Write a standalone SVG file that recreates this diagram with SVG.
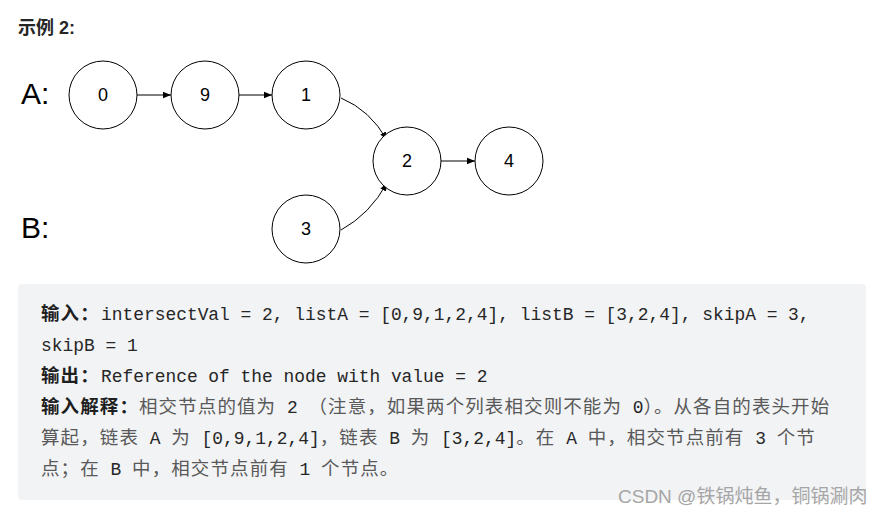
<svg xmlns="http://www.w3.org/2000/svg" width="884" height="516" viewBox="0 0 884 516">
<style>
.node circle{fill:#fff;stroke:#000;stroke-width:1}
.node text{font-family:"Liberation Sans",Arial,sans-serif;font-size:18px;fill:#000;text-anchor:middle}
.edge{fill:none;stroke:#000;stroke-width:1;marker-end:url(#arr)}
.big{font-family:"Liberation Sans",Arial,sans-serif;font-size:30px;fill:#000}
.title{font-family:"Liberation Sans","Noto Sans CJK SC",sans-serif;font-size:18px;font-weight:bold;fill:#262626}
.lb{font-family:"Noto Sans CJK SC",sans-serif;font-size:18.5px;letter-spacing:1.1px;font-weight:bold;fill:#1f1f1f}
.mo{font-family:"Liberation Mono","DejaVu Sans Mono",monospace;font-size:17.9px;fill:#262626}
.cn{font-family:"Noto Sans CJK SC",sans-serif;font-size:18.5px;letter-spacing:1.1px;fill:#595959}
.wm{font-family:"Liberation Sans","Noto Sans CJK SC",sans-serif;font-size:19px;fill:#a6a6a6}
</style>
<defs>
<marker id="arr" viewBox="0 0 10 10" refX="10" refY="5" markerWidth="8" markerHeight="8" markerUnits="userSpaceOnUse" orient="auto">
<path d="M0,1 L10,5 L0,9 Z" fill="#000"/>
</marker>
</defs>
<rect width="884" height="516" fill="#fff"/>
<text class="title" x="18" y="34">示例 2:</text>
<text class="big" x="21" y="104">A:</text>
<text class="big" x="21" y="238">B:</text>
<g id="connectors">
<line class="edge" x1="137" y1="95" x2="171" y2="95"/>
<line class="edge" x1="239" y1="95" x2="272" y2="95"/>
<path class="edge" d="M341,98 Q370,110 387,140"/>
<path class="edge" d="M341,230 Q370,214 387,183"/>
<line class="edge" x1="441" y1="161" x2="475" y2="161"/>
</g>
<g id="n0" class="node"><circle cx="103" cy="95" r="34"/><text x="103" y="101">0</text></g>
<g id="n9" class="node"><circle cx="205" cy="95" r="34"/><text x="205" y="101">9</text></g>
<g id="n1" class="node"><circle cx="306" cy="95" r="34"/><text x="306" y="101">1</text></g>
<g id="n2" class="node"><circle cx="407" cy="161" r="34"/><text x="407" y="167">2</text></g>
<g id="n4" class="node"><circle cx="509" cy="161" r="34"/><text x="509" y="167">4</text></g>
<g id="n3" class="node"><circle cx="306" cy="229" r="34"/><text x="306" y="235">3</text></g>
<rect x="18" y="284" width="848" height="216" rx="4" fill="#f2f3f5"/>
<text x="41" y="320"><tspan class="lb">输入：</tspan><tspan class="mo" x="101">intersectVal = 2, listA = [0,9,1,2,4], listB = [3,2,4], skipA = 3,</tspan></text>
<text x="41" y="351"><tspan class="mo">skipB = 1</tspan></text>
<text x="41" y="382"><tspan class="lb">输出：</tspan><tspan class="mo" x="101">Reference of the node with value = 2</tspan></text>
<text x="41" y="413"><tspan class="lb">输入解释：</tspan><tspan class="cn">相交节点的值为</tspan><tspan class="mo"> 2 </tspan><tspan class="cn">（注意，如果两个列表相交则不能为</tspan><tspan class="mo"> 0</tspan><tspan class="cn">）。从各自的表头开始</tspan></text>
<text x="41" y="444"><tspan class="cn">算起，链表</tspan><tspan class="mo"> A </tspan><tspan class="cn">为</tspan><tspan class="mo"> [0,9,1,2,4]</tspan><tspan class="cn">，链表</tspan><tspan class="mo"> B </tspan><tspan class="cn">为</tspan><tspan class="mo"> [3,2,4]</tspan><tspan class="cn">。在</tspan><tspan class="mo"> A </tspan><tspan class="cn">中，相交节点前有</tspan><tspan class="mo"> 3 </tspan><tspan class="cn">个节</tspan></text>
<text x="41" y="475"><tspan class="cn">点；在</tspan><tspan class="mo"> B </tspan><tspan class="cn">中，相交节点前有</tspan><tspan class="mo"> 1 </tspan><tspan class="cn">个节点。</tspan></text>
<text class="wm" x="618" y="503">CSDN @铁锅炖鱼，铜锅涮肉</text>
</svg>
